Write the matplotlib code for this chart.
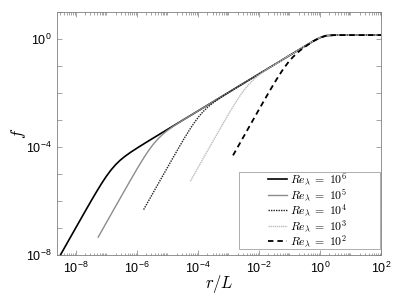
import numpy as np
import matplotlib
matplotlib.use("Agg")
import matplotlib.pyplot as plt
from matplotlib.patches import Rectangle
from matplotlib.ticker import FixedLocator, FixedFormatter, NullFormatter

plt.rcParams["font.family"] = ["Liberation Sans", "DejaVu Sans"]
plt.rcParams["mathtext.fontset"] = "cm"

# Values, stored as log10(r/L) and log10(f)
# dissipative part of each curve (differs per Reynolds number)
re6_logx = [-8.65, -8.30, -8.00, -7.70, -7.50, -7.30, -7.15, -7.00, -6.85, -6.70, -6.55, -6.40, -6.20, -5.95, -5.60]
re6_logf = [-8.283, -7.583, -6.984, -6.388, -5.994, -5.611, -5.336, -5.080, -4.852, -4.656, -4.491, -4.352, -4.190, -4.007, -3.762]

re5_logx = [-7.27, -6.92, -6.62, -6.32, -6.12, -5.92, -5.77, -5.62, -5.47, -5.32, -5.17, -5.02, -4.82, -4.57, -4.22]
re5_logf = [-7.338, -6.638, -6.039, -5.443, -5.049, -4.666, -4.391, -4.135, -3.907, -3.711, -3.546, -3.407, -3.245, -3.062, -2.817]

re4_logx = [-5.78, -5.43, -5.13, -4.83, -4.63, -4.43, -4.28, -4.13, -3.98, -3.83, -3.68, -3.53, -3.33, -3.08, -2.73]
re4_logf = [-6.317, -5.617, -5.018, -4.422, -4.028, -3.645, -3.370, -3.114, -2.886, -2.690, -2.525, -2.386, -2.224, -2.041, -1.796]

re3_logx = [-4.25, -3.90, -3.60, -3.30, -3.10, -2.90, -2.75, -2.60, -2.45, -2.30, -2.15, -2.00, -1.80, -1.55, -1.20]
re3_logf = [-5.269, -4.569, -3.970, -3.374, -2.980, -2.597, -2.322, -2.066, -1.838, -1.642, -1.477, -1.338, -1.176, -0.993, -0.748]

re2_logx = [-2.85, -2.50, -2.20, -1.90, -1.70, -1.50, -1.35, -1.20, -1.05, -0.90, -0.75, -0.60, -0.40]
re2_logf = [-4.310, -3.610, -3.011, -2.415, -2.021, -1.638, -1.363, -1.107, -0.879, -0.683, -0.518, -0.379, -0.217]

# inertial range and large-scale plateau, shared by all curves
outer_logx = [-5.0, -4.0, -3.0, -2.0, -1.0, -0.5, -0.2, 0.0, 0.1, 0.2, 0.3, 0.45, 0.7, 2.0]
outer_logf = [-3.35, -2.665, -1.98, -1.295, -0.61, -0.268, -0.068, 0.05, 0.095, 0.122, 0.136, 0.143, 0.145, 0.145]

labels = [r"$Re_\lambda\;=\;10^6$", r"$Re_\lambda\;=\;10^5$", r"$Re_\lambda\;=\;10^4$",
          r"$Re_\lambda\;=\;10^3$", r"$Re_\lambda\;=\;10^2$"]

xtick_vals = [1e-8, 1e-6, 1e-4, 1e-2, 1e0, 1e2]
xtick_labels = [r"$\mathdefault{10^{-8}}$", r"$\mathdefault{10^{-6}}$", r"$\mathdefault{10^{-4}}$",
                r"$\mathdefault{10^{-2}}$", r"$\mathdefault{10^{0}}$", r"$\mathdefault{10^{2}}$"]
ytick_vals = [1e-8, 1e-4, 1e0]
ytick_labels = [r"$\mathdefault{10^{-8}}$", r"$\mathdefault{10^{-4}}$", r"$\mathdefault{10^{0}}$"]


def full_curve(lx, lf):
    lx = list(lx)
    lf = list(lf)
    for x, f in zip(outer_logx, outer_logf):
        if x > lx[-1] + 0.1:
            lx.append(x)
            lf.append(f)
    return np.power(10.0, lx), np.power(10.0, lf)


curves = [
    (re6_logx, re6_logf, dict(color="black", lw=1.2, ls="-")),
    (re5_logx, re5_logf, dict(color="#8c8c8c", lw=1.0, ls="-")),
    (re4_logx, re4_logf, dict(color="#202020", lw=1.0, ls=(0, (1, 0.8)))),
    (re3_logx, re3_logf, dict(color="#bdbdbd", lw=1.0, ls=(0, (1, 0.5)))),
    (re2_logx, re2_logf, dict(color="black", lw=1.3, ls=(0, (3, 2.2)))),
]

fig = plt.figure(figsize=(3.99, 3.01), dpi=100)
ax = fig.add_axes([57 / 399, 46 / 301, 324 / 399, 243 / 301])

for (lx, lf, style), lab in zip(curves, labels):
    x, f = full_curve(lx, lf)
    ax.plot(x, f, label=lab, **style)

ax.set_xscale("log")
ax.set_yscale("log")
ax.set_xlim(10 ** -8.62, 1e2)
ax.set_ylim(1e-8, 1e1)

# ticks: labels every 2 decades on x, 4 decades on y
ax.xaxis.set_major_locator(FixedLocator(xtick_vals))
ax.xaxis.set_major_formatter(FixedFormatter(xtick_labels))
ax.xaxis.set_minor_locator(FixedLocator([m * 10.0 ** e for e in range(-9, 2) for m in range(1, 10)
                                         if m * 10.0 ** e not in xtick_vals]))
ax.xaxis.set_minor_formatter(NullFormatter())
ax.yaxis.set_major_locator(FixedLocator(ytick_vals))
ax.yaxis.set_major_formatter(FixedFormatter(ytick_labels))
ax.yaxis.set_minor_locator(FixedLocator([10.0 ** e for e in range(-8, 2) if 10.0 ** e not in ytick_vals]))
ax.yaxis.set_minor_formatter(NullFormatter())

spine_col = "#808080"
for s in ax.spines.values():
    s.set_color(spine_col)
    s.set_linewidth(0.6)
ax.tick_params(which="both", direction="in", top=True, right=True, colors=spine_col,
               labelcolor="black", labelsize=9, width=0.5)
ax.tick_params(which="major", length=3.5, pad=4)
ax.tick_params(axis="x", which="minor", length=1.8)
ax.tick_params(axis="y", which="minor", length=3.5)

ax.set_xlabel(r"$r/L$", fontsize=12, labelpad=-2)
ax.set_ylabel(r"$f$", fontsize=12, labelpad=-2)

# MATLAB-style legend: roomy box drawn separately, entries centred inside it
box_x0, box_x1 = (239 - 57) / 324, (380 - 57) / 324
box_y0, box_y1 = (255 - 249) / 243, (255 - 172) / 243
ax.add_patch(Rectangle((box_x0, box_y0), box_x1 - box_x0, box_y1 - box_y0, transform=ax.transAxes,
                       facecolor="white", edgecolor="#a0a0a0", lw=0.6, zorder=4))
leg = ax.legend(loc="center", bbox_to_anchor=((box_x0 + box_x1) / 2 - 0.005, (box_y0 + box_y1) / 2),
                fontsize=8.5, frameon=False, handlelength=1.6, handletextpad=0.25,
                labelspacing=0.0, borderpad=0.0)
leg.set_zorder(5)

fig.savefig("out.png", dpi=100)
